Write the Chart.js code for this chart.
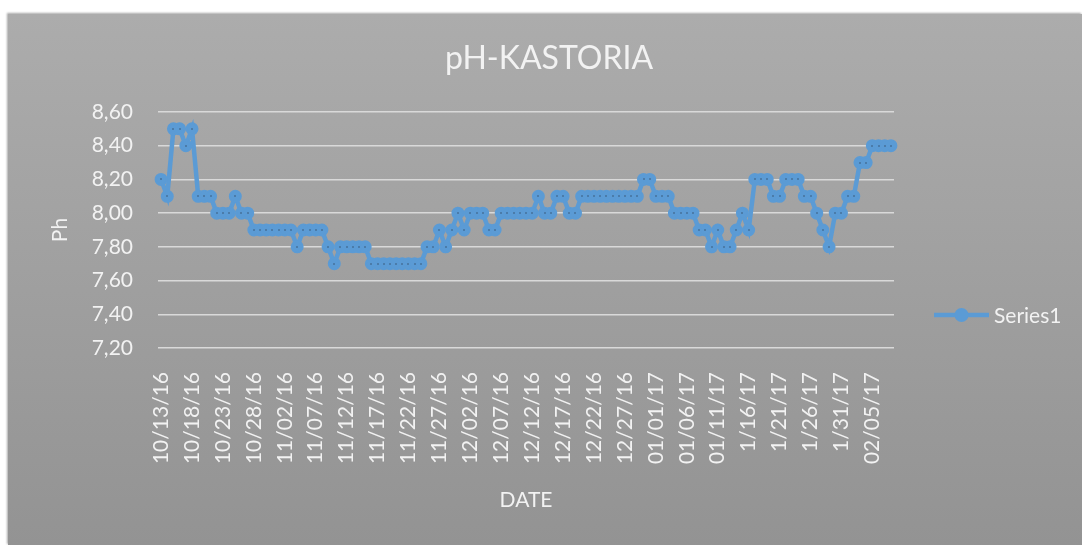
<!DOCTYPE html>
<html>
<head>
<meta charset="utf-8">
<script src="https://cdn.jsdelivr.net/npm/chart.js@4/dist/chart.umd.min.js"></script>
<style>
  html, body { margin: 0; padding: 0; background: #ffffff; }
  #box {
    position: absolute; left: 8px; top: 14px; width: 1074px; height: 531px;
    background: linear-gradient(#acacac, #939393);
    box-shadow: -1px -1px 2px rgba(0,0,0,0.35);
  }
  canvas { display: block; }
</style>
</head>
<body>
<div id="box"><canvas id="c" width="1074" height="531"></canvas></div>
<script>
const chartTitle = 'pH-KASTORIA';
const xAxisTitle = 'DATE';
const yAxisTitle = 'Ph';
const seriesName = 'Series1';

const dates = [
  '10/13/16','10/14/16','10/15/16','10/16/16','10/17/16','10/18/16','10/19/16','10/20/16','10/21/16','10/22/16',
  '10/23/16','10/24/16','10/25/16','10/26/16','10/27/16','10/28/16','10/29/16','10/30/16','10/31/16','11/01/16',
  '11/02/16','11/03/16','11/04/16','11/05/16','11/06/16','11/07/16','11/08/16','11/09/16','11/10/16','11/11/16',
  '11/12/16','11/13/16','11/14/16','11/15/16','11/16/16','11/17/16','11/18/16','11/19/16','11/20/16','11/21/16',
  '11/22/16','11/23/16','11/24/16','11/25/16','11/26/16','11/27/16','11/28/16','11/29/16','11/30/16','12/01/16',
  '12/02/16','12/03/16','12/04/16','12/05/16','12/06/16','12/07/16','12/08/16','12/09/16','12/10/16','12/11/16',
  '12/12/16','12/13/16','12/14/16','12/15/16','12/16/16','12/17/16','12/18/16','12/19/16','12/20/16','12/21/16',
  '12/22/16','12/23/16','12/24/16','12/25/16','12/26/16','12/27/16','12/28/16','12/29/16','12/30/16','12/31/16',
  '01/01/17','01/02/17','01/03/17','01/04/17','01/05/17','01/06/17','01/07/17','01/08/17','01/09/17','01/10/17',
  '01/11/17','01/12/17','1/13/17','1/14/17','1/15/17','1/16/17','1/17/17','1/18/17','1/19/17','1/20/17',
  '1/21/17','1/22/17','1/23/17','1/24/17','1/25/17','1/26/17','1/27/17','1/28/17','1/29/17','1/30/17',
  '1/31/17','02/01/17','02/02/17','02/03/17','02/04/17','02/05/17','02/06/17','02/07/17','02/08/17'
];

const phValues = [
  8.2, 8.1, 8.5, 8.5, 8.4, 8.5, 8.1, 8.1, 8.1, 8.0,
  8.0, 8.0, 8.1, 8.0, 8.0, 7.9, 7.9, 7.9, 7.9, 7.9,
  7.9, 7.9, 7.8, 7.9, 7.9, 7.9, 7.9, 7.8, 7.7, 7.8,
  7.8, 7.8, 7.8, 7.8, 7.7, 7.7, 7.7, 7.7, 7.7, 7.7,
  7.7, 7.7, 7.7, 7.8, 7.8, 7.9, 7.8, 7.9, 8.0, 7.9,
  8.0, 8.0, 8.0, 7.9, 7.9, 8.0, 8.0, 8.0, 8.0, 8.0,
  8.0, 8.1, 8.0, 8.0, 8.1, 8.1, 8.0, 8.0, 8.1, 8.1,
  8.1, 8.1, 8.1, 8.1, 8.1, 8.1, 8.1, 8.1, 8.2, 8.2,
  8.1, 8.1, 8.1, 8.0, 8.0, 8.0, 8.0, 7.9, 7.9, 7.8,
  7.9, 7.8, 7.8, 7.9, 8.0, 7.9, 8.2, 8.2, 8.2, 8.1,
  8.1, 8.2, 8.2, 8.2, 8.1, 8.1, 8.0, 7.9, 7.8, 8.0,
  8.0, 8.1, 8.1, 8.3, 8.3, 8.4, 8.4, 8.4, 8.4
];

const yMin = 7.2, yMax = 8.6, yStep = 0.2;
const labelEvery = 5;

const FONT = 'Lato, "Open Sans", sans-serif';
const TEXT = '#f2f2f2';
const BLUE = '#5b9bd5';

const titlePlugin = {
  id: 'topTitle',
  afterDraw(chart) {
    const ctx = chart.ctx;
    ctx.save();
    ctx.fillStyle = TEXT;
    ctx.font = '32px ' + FONT;
    ctx.textAlign = 'center';
    ctx.textBaseline = 'middle';
    ctx.fillText(chartTitle, 541, 45);
    ctx.restore();
  }
};

const legendPlugin = {
  id: 'sideLegend',
  afterDraw(chart) {
    const ctx = chart.ctx;
    const ds = chart.data.datasets[0];
    const y = 301, x0 = 926, x1 = 981;
    ctx.save();
    ctx.strokeStyle = BLUE; ctx.lineWidth = 4.5; ctx.lineCap = 'butt';
    ctx.beginPath(); ctx.moveTo(x0, y); ctx.lineTo(x1, y); ctx.stroke();
    ctx.fillStyle = BLUE;
    ctx.beginPath(); ctx.arc((x0 + x1) / 2, y, 7, 0, Math.PI * 2); ctx.fill();
    ctx.fillStyle = TEXT; ctx.font = '21px ' + FONT;
    ctx.textAlign = 'left'; ctx.textBaseline = 'middle';
    ctx.fillText(ds.label, x1 + 5, y + 1);
    ctx.restore();
  }
};

const dotPlugin = {
  id: 'centerDots',
  afterDatasetsDraw(chart) {
    const ctx = chart.ctx;
    ctx.save();
    ctx.fillStyle = '#3d5e80';
    chart.getDatasetMeta(0).data.forEach(p => {
      ctx.fillRect(Math.round(p.x) - 0.5, Math.round(p.y) - 1, 1, 2);
    });
    ctx.restore();
  }
};

new Chart(document.getElementById('c'), {
  type: 'line',
  data: {
    labels: dates,
    datasets: [{
      label: seriesName,
      data: phValues,
      borderColor: BLUE,
      backgroundColor: BLUE,
      borderWidth: 4.5,
      pointRadius: 5.5,
      pointBorderWidth: 2,
      pointBackgroundColor: BLUE,
      pointBorderColor: BLUE,
      tension: 0,
      clip: false
    }]
  },
  options: {
    responsive: false,
    animation: false,
    layout: { padding: { left: 40, right: 188, top: 98, bottom: 32 } },
    plugins: {
      legend: { display: false },
      tooltip: { enabled: false },
      title: { display: false }
    },
    scales: {
      x: {
        type: 'category',
        offset: true,
        grid: { display: false, drawTicks: false },
        border: { display: false },
        ticks: {
          autoSkip: false, minRotation: 90, maxRotation: 90, padding: 24,
          color: TEXT, font: { family: FONT, size: 21 },
          callback: (v, i) => (i % labelEvery === 0 ? dates[i] : '')
        },
        title: { display: true, text: xAxisTitle, color: TEXT, padding: 0,
          font: { family: FONT, size: 21, lineHeight: 1.2 } },
        afterFit: s => { s.height = 165; }
      },
      y: {
        min: yMin, max: yMax,
        grid: { color: '#d9d9d9', lineWidth: 1.5, drawTicks: false },
        border: { display: false },
        ticks: {
          stepSize: yStep, padding: 25, color: TEXT,
          font: { family: FONT, size: 21 },
          callback: v => Number(v).toFixed(2).replace('.', ',')
        },
        title: { display: true, text: yAxisTitle, color: TEXT, padding: 0,
          font: { family: FONT, size: 21, lineHeight: 1.2 } },
        afterFit: s => { s.width = 110; }
      }
    }
  },
  plugins: [titlePlugin, legendPlugin, dotPlugin]
});
</script>
</body>
</html>
